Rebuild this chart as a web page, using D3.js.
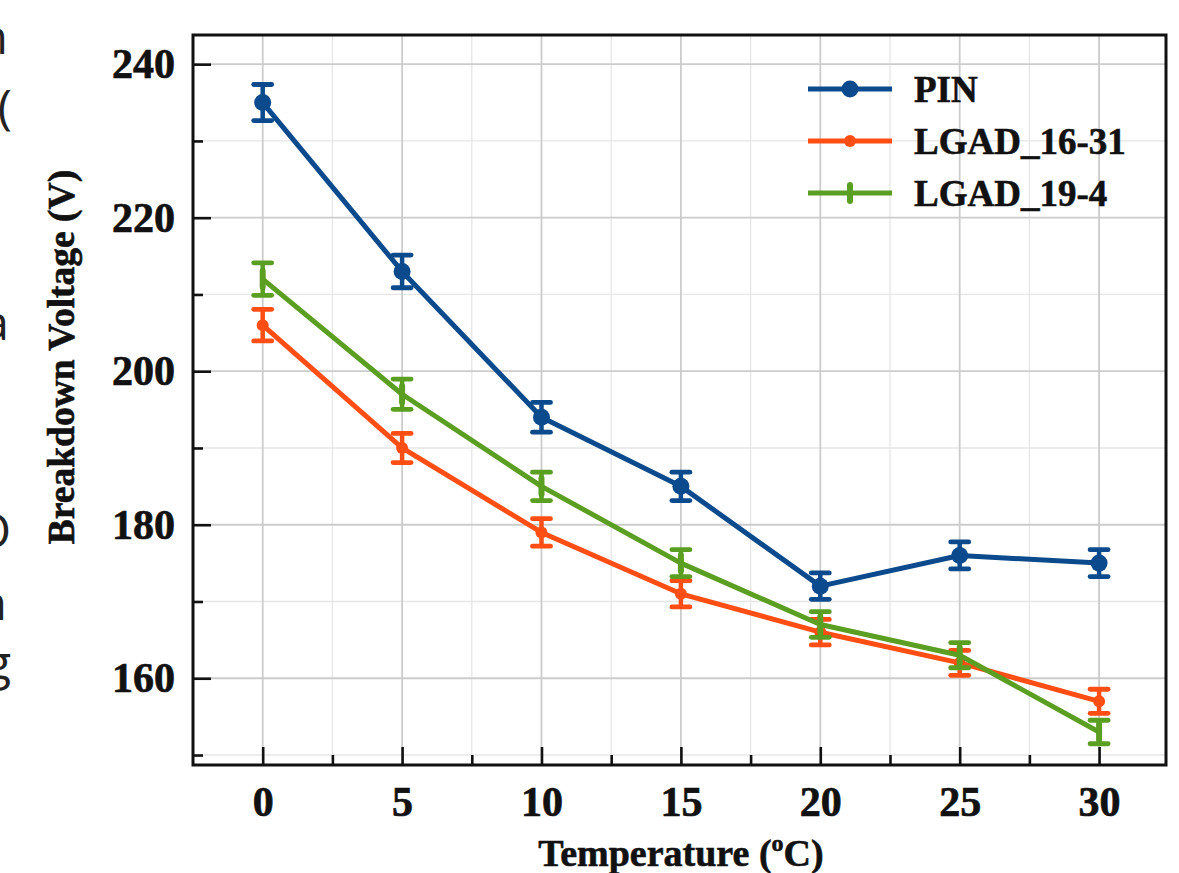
<!DOCTYPE html>
<html>
<head>
<meta charset="utf-8">
<script src="https://cdn.jsdelivr.net/npm/d3@7"></script>
<style>
  html, body { margin: 0; padding: 0; background: #fff; }
  svg { display: block; }
</style>
</head>
<body>
<svg id="chart" width="1179" height="873"></svg>
<script>
// Breakdown voltage vs. temperature for three sensors
const temps = [0, 5, 10, 15, 20, 25, 30];
const pinV = [235, 213, 194, 185, 172, 176, 175];
const pinErr = [2.35, 2.13, 1.94, 1.85, 1.72, 1.76, 1.75];
const lgad1631V = [206, 190, 179, 171, 166, 162, 157];
const lgad1631Err = [2.06, 1.90, 1.79, 1.71, 1.66, 1.62, 1.57];
const lgad194V = [212, 197, 185, 175, 167, 163, 153];
const lgad194Err = [2.12, 1.97, 1.85, 1.75, 1.67, 1.63, 1.53];
const seriesNames = ["PIN", "LGAD_16-31", "LGAD_19-4"];
const xTicks = [0, 5, 10, 15, 20, 25, 30];
const xMinorTicks = [2.5, 7.5, 12.5, 17.5, 22.5, 27.5];
const yTicks = [160, 180, 200, 220, 240];
const yMinorTicks = [150, 170, 190, 210, 230];
// text fragments of the neighbouring page column
const sideText = ["n", "t(", "a", "O", "n", "g"];

const series = [
  { name: seriesNames[0], v: pinV, e: pinErr, color: "#0b4a8c", marker: "circle" },
  { name: seriesNames[1], v: lgad1631V, e: lgad1631Err, color: "#ff4e14", marker: "dot" },
  { name: seriesNames[2], v: lgad194V, e: lgad194Err, color: "#5a9e22", marker: "bar" }
];

const svg = d3.select("#chart");
const L = 193, R = 1166, T = 35, B = 765;
const serif = "'Liberation Serif', 'Times New Roman', serif";

const x = d3.scaleLinear().domain([-2.5, 32.4]).range([L, R]);
const y = d3.scaleLinear().domain([148.7, 243.8]).range([B, T]);

// grid
const grid = svg.append("g");
grid.selectAll("line.ymin").data(yMinorTicks).join("line")
  .attr("x1", L).attr("x2", R).attr("y1", d => y(d)).attr("y2", d => y(d))
  .attr("stroke", "#e6e6e6").attr("stroke-width", 1.3);
grid.selectAll("line.xmin").data(xMinorTicks).join("line")
  .attr("y1", T).attr("y2", B).attr("x1", d => x(d)).attr("x2", d => x(d))
  .attr("stroke", "#e6e6e6").attr("stroke-width", 1.3);
grid.selectAll("line.ymaj").data(yTicks).join("line")
  .attr("x1", L).attr("x2", R).attr("y1", d => y(d)).attr("y2", d => y(d))
  .attr("stroke", "#cccccc").attr("stroke-width", 1.8);
grid.selectAll("line.xmaj").data(xTicks).join("line")
  .attr("y1", T).attr("y2", B).attr("x1", d => x(d)).attr("x2", d => x(d))
  .attr("stroke", "#cccccc").attr("stroke-width", 1.8);

// axes with inward ticks
function styleAxis(g, size) {
  g.select(".domain").remove();
  g.selectAll(".tick line").attr("stroke", "#111").attr("stroke-width", 2.6);
  g.selectAll(".tick text").attr("font-family", serif).attr("font-weight", "bold")
    .attr("font-size", size).attr("fill", "#111")
    .attr("stroke", "#111").attr("stroke-width", 0.7);
}
svg.append("g").attr("transform", `translate(${L},0)`)
  .call(d3.axisLeft(y).tickValues(yTicks).tickSize(-18).tickPadding(18).tickFormat(d3.format("d")))
  .call(g => styleAxis(g, 42));
svg.append("g").attr("transform", `translate(${L},0)`)
  .call(d3.axisLeft(y).tickValues(yMinorTicks).tickSize(-10).tickFormat(""))
  .call(g => styleAxis(g, 42));
svg.append("g").attr("transform", `translate(0,${B})`)
  .call(d3.axisBottom(x).tickValues(xTicks).tickSize(-18).tickPadding(21).tickFormat(d3.format("d")))
  .call(g => styleAxis(g, 42));
svg.append("g").attr("transform", `translate(0,${B})`)
  .call(d3.axisBottom(x).tickValues(xMinorTicks).tickSize(-10).tickFormat(""))
  .call(g => styleAxis(g, 42));

// frame
svg.append("rect").attr("x", L).attr("y", T).attr("width", R - L).attr("height", B - T)
  .attr("fill", "none").attr("stroke", "#111").attr("stroke-width", 3);

// series: line, error bars, markers
const line = d3.line().x((d, i) => x(temps[i])).y(d => y(d));
function drawMarker(g, s, cx, cy) {
  if (s.marker === "circle") {
    g.append("circle").attr("cx", cx).attr("cy", cy).attr("r", 8.5).attr("fill", s.color);
  } else if (s.marker === "dot") {
    g.append("circle").attr("cx", cx).attr("cy", cy).attr("r", 6).attr("fill", s.color);
  } else {
    g.append("line").attr("x1", cx).attr("x2", cx).attr("y1", cy - 8).attr("y2", cy + 8)
      .attr("stroke", s.color).attr("stroke-width", 6).attr("stroke-linecap", "round");
  }
}
series.forEach(s => {
  const g = svg.append("g");
  g.append("path").datum(s.v).attr("d", line).attr("fill", "none")
    .attr("stroke", s.color).attr("stroke-width", 5).attr("stroke-linejoin", "round");
  s.v.forEach((v, i) => {
    const cx = x(temps[i]);
    const y1 = y(v + s.e[i]), y2 = y(v - s.e[i]);
    g.append("line").attr("x1", cx).attr("x2", cx).attr("y1", y1).attr("y2", y2)
      .attr("stroke", s.color).attr("stroke-width", 4.5);
    [y1, y2].forEach(yy => g.append("line").attr("x1", cx - 9).attr("x2", cx + 9)
      .attr("y1", yy).attr("y2", yy).attr("stroke", s.color).attr("stroke-width", 4.8)
      .attr("stroke-linecap", "round"));
    drawMarker(g, s, cx, y(v));
  });
});

// legend
const legY = [89, 141, 193];
series.forEach((s, i) => {
  const g = svg.append("g");
  g.append("line").attr("x1", 808).attr("x2", 892).attr("y1", legY[i]).attr("y2", legY[i])
    .attr("stroke", s.color).attr("stroke-width", 5);
  drawMarker(g, s, 850, legY[i]);
  g.append("text").attr("x", 914).attr("y", legY[i]).attr("dy", "0.36em")
    .attr("font-family", serif).attr("font-weight", "bold").attr("font-size", 37)
    .attr("fill", "#111").attr("stroke", "#111").attr("stroke-width", 0.6).text(s.name);
});

// axis titles
const xt = svg.append("text").attr("x", 681).attr("y", 866).attr("text-anchor", "middle")
  .attr("font-family", serif).attr("font-weight", "bold").attr("font-size", 38)
  .attr("fill", "#111").attr("stroke", "#111").attr("stroke-width", 0.6);
xt.append("tspan").text("Temperature (");
xt.append("tspan").attr("font-size", 24).attr("dy", -15).text("o");
xt.append("tspan").attr("dy", 15).text("C)");

svg.append("text").attr("transform", "translate(74,357) rotate(-90)").attr("text-anchor", "middle")
  .attr("font-family", serif).attr("font-weight", "bold").attr("font-size", 37.5)
  .attr("fill", "#111").attr("stroke", "#111").attr("stroke-width", 0.6)
  .text("Breakdown Voltage (V)");

// clipped letters at the left page edge
const sideY = [54, 124, 340, 548, 620, 680];
const sideX = [8, 12, 9, 11, 7, 11];
svg.append("g").selectAll("text").data(sideText).join("text")
  .attr("x", (d, i) => sideX[i]).attr("y", (d, i) => sideY[i]).attr("text-anchor", "end")
  .attr("font-family", "'Open Sans', sans-serif").attr("font-size", 48).attr("fill", "#222")
  .text(d => d);
</script>
</body>
</html>
